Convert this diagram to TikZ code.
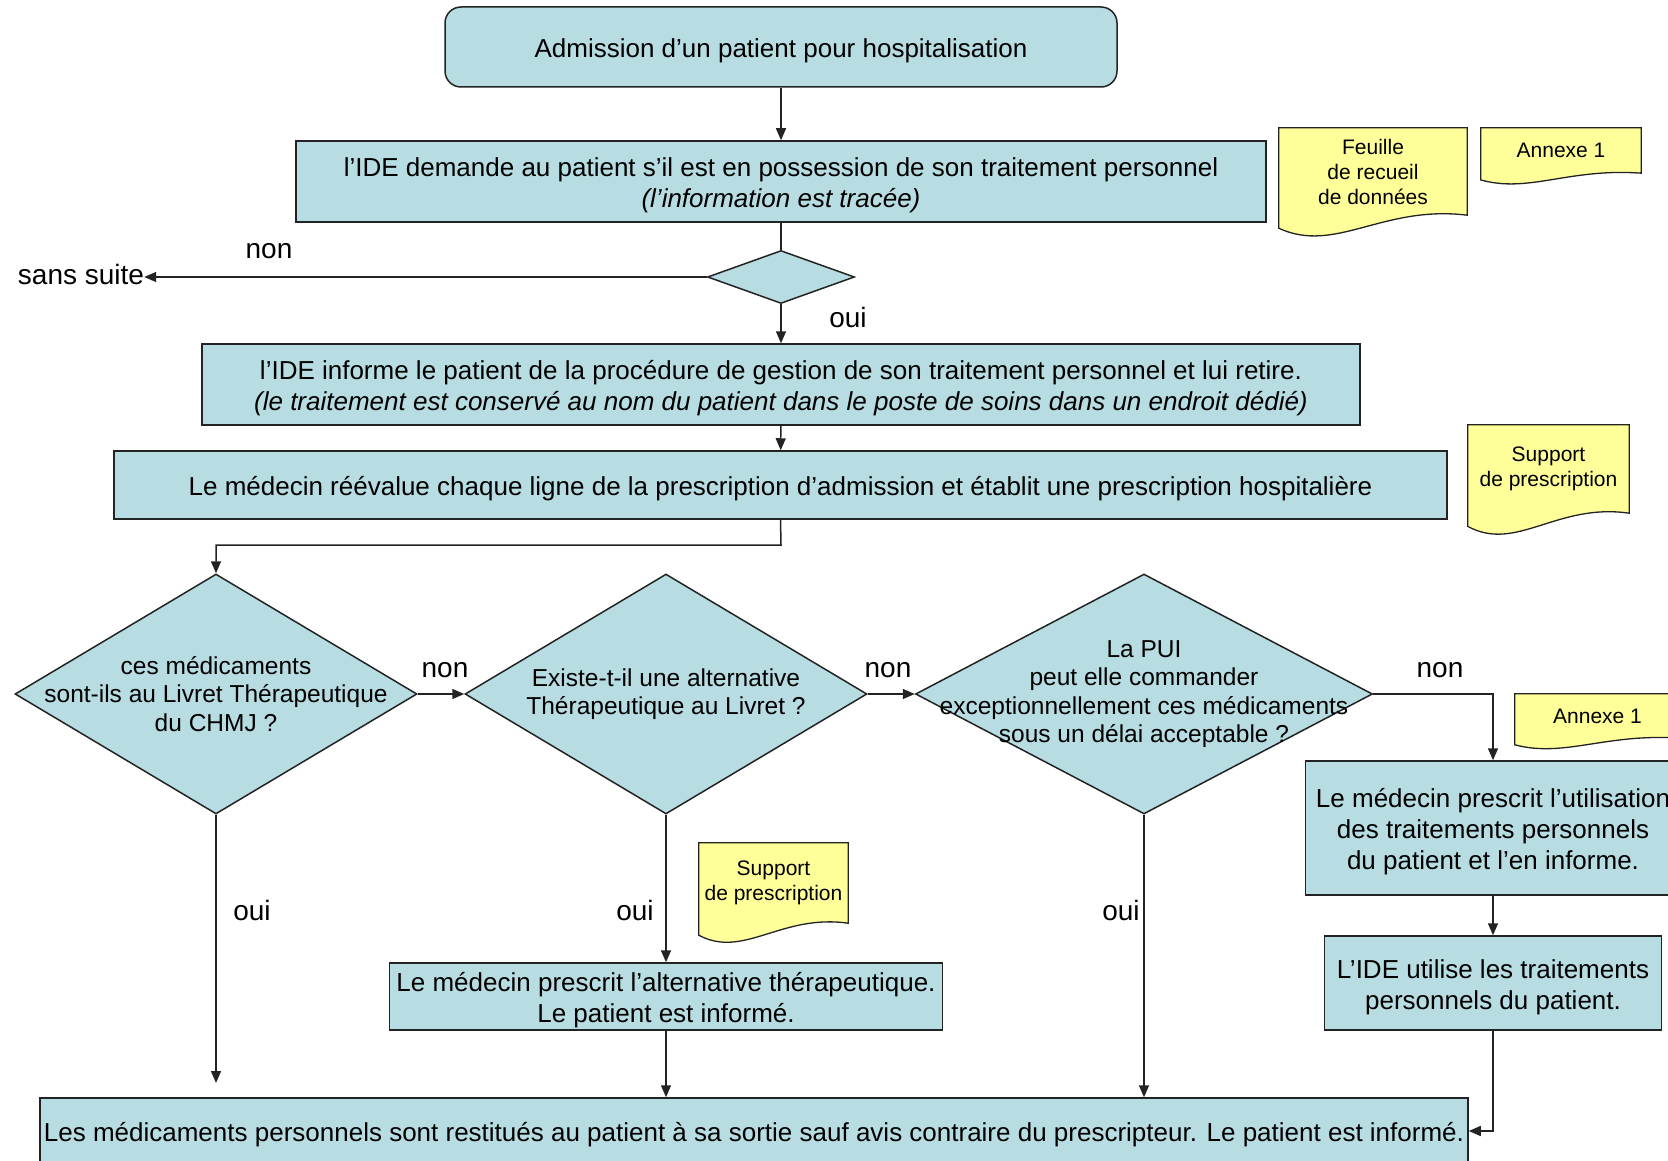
\documentclass[tikz,border=0pt]{standalone}
\usepackage{fontspec}
\setmainfont{Liberation Sans}
\usepackage{xcolor}
\usetikzlibrary{calc,shapes.geometric,arrows.meta,backgrounds}

\definecolor{boxblue}{RGB}{183,221,226}
\definecolor{docyellow}{RGB}{255,255,153}
\definecolor{edge}{RGB}{35,35,35}

\newcommand{\topstrut}{\rule{0pt}{27pt}}

\tikzset{
  box/.style={draw=edge,fill=boxblue,line width=1.5pt,align=center,inner sep=0pt,font=\fontsize{26}{31}\selectfont},
  start/.style={box,rounded corners=16pt},
  choice/.style={draw=edge,fill=boxblue,line width=1.5pt,diamond,inner sep=0pt},
  choicetext/.style={align=center,inner sep=0pt,font=\fontsize{24.5}{28.5}\selectfont},
  docbox/.style={draw=edge,fill=docyellow,line width=1.3pt},
  doclabel/.style={align=center,inner sep=0pt,font=\fontsize{21}{25}\selectfont},
  tag/.style={inner sep=0pt,font=\fontsize{28}{33}\selectfont},
  line/.style={draw=edge,line width=1.5pt},
  arr/.style={line,-{Triangle[length=12pt,width=10pt]}}
}

\begin{document}
\begin{tikzpicture}[x=1pt,y=-1pt]
        \useasboundingbox (0,0) rectangle (1668,1161);

        \node[start,minimum width=672pt,minimum height=80pt] (admit) at (781,47) {\topstrut Admission d’un patient pour hospitalisation};
        \node[box,minimum width=970pt,minimum height=81pt] (ask) at (781,181.5) {\topstrut l’IDE demande au patient s’il est en possession de son traitement personnel\\\textit{(l’information est tracée)}};
        \node[choice,minimum width=147pt,minimum height=53pt] (q0) at (781,277) {};
        \node[tag] (stop) at (81,274) {sans suite};
        \node[box,minimum width=1158pt,minimum height=81pt] (inform) at (781,384.5) {\topstrut l’IDE informe le patient de la procédure de gestion de son traitement personnel et lui retire.\\\textit{(le traitement est conservé au nom du patient dans le poste de soins dans un endroit dédié)}};
        \node[box,minimum width=1333pt,minimum height=68pt] (reeval) at (780.5,485) {\topstrut Le médecin réévalue chaque ligne de la prescription d’admission et établit une prescription hospitalière};

        \node[choice,minimum width=402pt,minimum height=240pt,label={[choicetext]center:{ces médicaments\\sont-ils au Livret Thérapeutique\\du CHMJ ?}}] (livret) at (216,694) {};
        \node[choice,minimum width=402pt,minimum height=240pt,label={[choicetext]center:{Existe-t-il une alternative\\Thérapeutique au Livret ?}}] (altern) at (666,694) {};
        \node[choice,minimum width=457pt,minimum height=240pt,label={[choicetext]center:{La PUI\\peut elle commander\\exceptionnellement ces médicaments\\sous un délai acceptable ?}}] (pui) at (1144,694) {};

        \node[box,minimum width=375pt,minimum height=134pt] (useown) at (1493,828) {\topstrut Le médecin prescrit l’utilisation\\des traitements personnels\\du patient et l’en informe.};
        \node[box,minimum width=337pt,minimum height=94pt] (ideuse) at (1493,983) {\topstrut L’IDE utilise les traitements\\personnels du patient.};
        \node[box,minimum width=553pt,minimum height=67pt] (altpres) at (666,996.5) {\topstrut Le médecin prescrit l’alternative thérapeutique.\\Le patient est informé.};
        \node[box,minimum width=1428pt,minimum height=66pt] (giveback) at (754,1131) {\topstrut Les médicaments personnels sont restitués au patient à sa sortie sauf avis contraire du prescripteur. Le patient est informé.};

        \node[doclabel,minimum width=188pt,minimum height=87pt] (feuille) at (1373,171.5) {Feuille\\de recueil\\de données};
        \node[doclabel,minimum width=160pt,minimum height=45pt] (annexeA) at (1561,150.5) {Annexe 1};
        \node[doclabel,minimum width=161pt,minimum height=88pt] (supportA) at (1548.5,469) {Support\\de prescription};
        \node[doclabel,minimum width=149pt,minimum height=80pt] (supportB) at (773.5,883) {Support\\de prescription};
        \node[doclabel,minimum width=165pt,minimum height=44pt] (annexeB) at (1597.5,716) {Annexe 1};

        \begin{scope}[on background layer]
        \foreach \n/\h in {feuille/87,annexeA/45,supportA/88,supportB/80,annexeB/44}
            \path[docbox] (\n.north west) -- (\n.north east) -- (\n.south east)
                .. controls ($(\n.south west)!0.55!(\n.south east)+(0,{-0.12*\h})$)
                and ($(\n.south west)!0.3!(\n.south east)+(0,{0.45*\h})$)
                .. ($(\n.south west)+(0,{0.15*\h})$) -- cycle;
        \end{scope}

        \node[tag] (non0) at (269,251) {non};
        \node[tag] (oui0) at (848,317) {oui};
        \node[tag] (non1) at (445,670) {non};
        \node[tag] (non2) at (888,670) {non};
        \node[tag] (non3) at (1440,670) {non};
        \node[tag] (oui1) at (252,910) {oui};
        \node[tag] (oui2) at (635,910) {oui};
        \node[tag] (oui3) at (1121,910) {oui};

        \coordinate (split) at (781,545);
        \coordinate (livretend) at (216,1083);

        \draw[arr] (admit) -- (ask);
        \draw[line] (ask) -- (q0);
        \draw[arr] (q0.west) -- (q0.west -| stop.east);
        \draw[arr] (q0) -- (inform);
        \draw[arr] (inform) -- (reeval);
        \draw[arr] (reeval.south) -- (split) -| (livret.north);
        \draw[arr] (livret.east) -- (altern.west);
        \draw[arr] (altern.east) -- (pui.west);
        \draw[arr] (pui.east) -| (useown.north);
        \draw[arr] (useown) -- (ideuse);
        \draw[arr] (ideuse.south) |- (giveback.east);
        \draw[arr] (livret.south) -- (livretend);
        \draw[arr] (altern.south) -- (altpres.north);
        \draw[arr] (altpres.south) -- (altpres.south |- giveback.north);
        \draw[arr] (pui.south) -- (pui.south |- giveback.north);
    \end{tikzpicture}
\end{document}
